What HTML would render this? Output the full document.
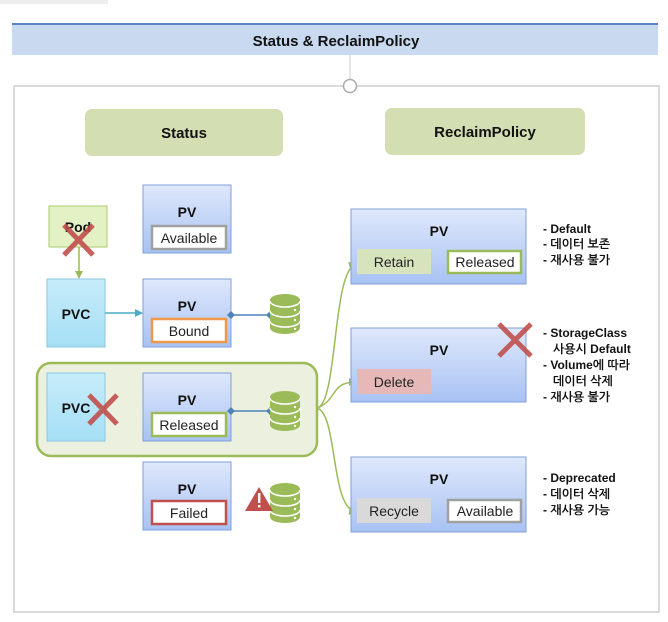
<!DOCTYPE html>
<html><head><meta charset="utf-8"><style>
body{margin:0;background:#fff;}
svg{display:block;font-family:"Liberation Sans","NanumGothic","Noto Sans CJK KR",sans-serif;}
.b{font-weight:bold;}
</style></head><body>
<svg width="668" height="622" viewBox="0 0 668 622" xmlns="http://www.w3.org/2000/svg">
<defs>
<linearGradient id="gpv" x1="0" y1="0" x2="0" y2="1"><stop offset="0" stop-color="#dfe8fb"/><stop offset="1" stop-color="#a8c2f3"/></linearGradient>
<linearGradient id="gpvc" x1="0" y1="0" x2="0" y2="1"><stop offset="0" stop-color="#c6ecfa"/><stop offset="1" stop-color="#a6dff5"/></linearGradient>
<g id="cyl">
<path d="M0 6 A15 6 0 0 1 30 6 V34 A15 6 0 0 1 0 34 Z" fill="#9bbb59"/>
<path d="M0 7 A15 6 0 0 0 30 7" fill="none" stroke="#fff" stroke-width="1.5"/>
<path d="M0 17 A15 6 0 0 0 30 17" fill="none" stroke="#fff" stroke-width="1.5"/>
<path d="M0 27 A15 6 0 0 0 30 27" fill="none" stroke="#fff" stroke-width="1.5"/>
<circle cx="25" cy="16" r="1.2" fill="#fff"/><circle cx="25" cy="26" r="1.2" fill="#fff"/><circle cx="25" cy="35" r="1.2" fill="#fff"/>
</g>
<marker id="ag" markerWidth="8" markerHeight="8" refX="7" refY="4" orient="auto" markerUnits="userSpaceOnUse"><path d="M0 0 L8 4 L0 8 Z" fill="#9bbb59"/></marker>
<marker id="ab" markerWidth="8" markerHeight="8" refX="7" refY="4" orient="auto" markerUnits="userSpaceOnUse"><path d="M0 0 L8 4 L0 8 Z" fill="#4bacc6"/></marker>
</defs>
<rect x="0" y="0" width="108" height="4" fill="#eeeeee"/>
<!-- header -->
<rect x="12" y="24" width="646" height="31" fill="#c9d9f0"/>
<rect x="12" y="23" width="646" height="2" fill="#5a82c4"/>
<text x="336" y="46" text-anchor="middle" class="b" font-size="15" fill="#111">Status &amp; ReclaimPolicy</text>
<line x1="350" y1="55" x2="350" y2="80" stroke="#ccc" stroke-width="1"/>
<rect x="14" y="86" width="645" height="526" fill="none" stroke="#dadada" stroke-width="2"/>
<circle cx="350" cy="86" r="6.5" fill="#fff" stroke="#aaa" stroke-width="1.5"/>
<!-- section titles -->
<rect x="85" y="109" width="198" height="47" rx="7" fill="#d3dfb3"/>
<text x="184" y="138" text-anchor="middle" class="b" font-size="15" fill="#111">Status</text>
<rect x="385" y="108" width="200" height="47" rx="7" fill="#d3dfb3"/>
<text x="485" y="137" text-anchor="middle" class="b" font-size="15" fill="#111">ReclaimPolicy</text>
<!-- green group -->
<rect x="37" y="363" width="280" height="93" rx="14" fill="#ebf0df" stroke="#9bbb59" stroke-width="2.5"/>
<!-- Pod -->
<rect x="49" y="206" width="58" height="41" fill="#e3f1c4" stroke="#a9cb6c" stroke-width="1"/>
<text x="78" y="232" text-anchor="middle" class="b" font-size="14" fill="#111">Pod</text>
<path d="M64 225 L93 255 M93 225 L64 255" stroke="#c0504d" stroke-width="5" opacity="0.9"/>
<line x1="79" y1="247" x2="79" y2="278" stroke="#9bbb59" stroke-width="1.5" marker-end="url(#ag)"/>
<!-- PVC -->
<rect x="47" y="279" width="58" height="68" fill="url(#gpvc)" stroke="#8cc8e0"/>
<text x="76" y="319" text-anchor="middle" class="b" font-size="14" fill="#111">PVC</text>
<line x1="105" y1="313" x2="142" y2="313" stroke="#4bacc6" stroke-width="1.5" marker-end="url(#ab)"/>
<rect x="47" y="373" width="58" height="68" fill="url(#gpvc)" stroke="#8cc8e0"/>
<text x="76" y="413" text-anchor="middle" class="b" font-size="14" fill="#111">PVC</text>
<path d="M89 395 L117 424 M117 395 L89 424" stroke="#c0504d" stroke-width="5" opacity="0.9"/>
<!-- PV status boxes -->
<g>
<rect x="143" y="185" width="88" height="68" fill="url(#gpv)" stroke="#7f9fd9"/>
<text x="187" y="217" text-anchor="middle" class="b" font-size="14" fill="#111">PV</text>
<rect x="152" y="226" width="74" height="23" fill="#fff" stroke="#a0a0a0" stroke-width="2.5"/>
<text x="189" y="243" text-anchor="middle" font-size="14" fill="#222">Available</text>

<rect x="143" y="279" width="88" height="68" fill="url(#gpv)" stroke="#7f9fd9"/>
<text x="187" y="311" text-anchor="middle" class="b" font-size="14" fill="#111">PV</text>
<rect x="152" y="319" width="74" height="23" fill="#fff" stroke="#f0974a" stroke-width="2.5"/>
<text x="189" y="336" text-anchor="middle" font-size="14" fill="#222">Bound</text>

<rect x="143" y="373" width="88" height="68" fill="url(#gpv)" stroke="#7f9fd9"/>
<text x="187" y="405" text-anchor="middle" class="b" font-size="14" fill="#111">PV</text>
<rect x="152" y="413" width="74" height="23" fill="#fff" stroke="#9bbb59" stroke-width="2.5"/>
<text x="189" y="430" text-anchor="middle" font-size="14" fill="#222">Released</text>

<rect x="143" y="462" width="88" height="68" fill="url(#gpv)" stroke="#7f9fd9"/>
<text x="187" y="494" text-anchor="middle" class="b" font-size="14" fill="#111">PV</text>
<rect x="152" y="501" width="74" height="23" fill="#fff" stroke="#c0504d" stroke-width="2.5"/>
<text x="189" y="518" text-anchor="middle" font-size="14" fill="#222">Failed</text>
</g>
<!-- connectors to storage -->
<line x1="231" y1="315" x2="270" y2="315" stroke="#4f81bd" stroke-width="1.5"/>
<path d="M231 311 L235 315 L231 319 L227 315Z M270 311 L274 315 L270 319 L266 315Z" fill="#4f81bd"/>
<line x1="231" y1="411" x2="270" y2="411" stroke="#4f81bd" stroke-width="1.5"/>
<path d="M231 407 L235 411 L231 415 L227 411Z M270 407 L274 411 L270 415 L266 411Z" fill="#4f81bd"/>
<use href="#cyl" x="270" y="294"/>
<use href="#cyl" x="270" y="391"/>
<use href="#cyl" x="270" y="483"/>
<path d="M259 487 L273 511 L245 511 Z" fill="#c0504d"/>
<rect x="258" y="493" width="2.4" height="10" fill="#fff"/><rect x="258" y="505" width="2.4" height="2.4" fill="#fff"/>
<!-- curves -->
<path d="M317 408 C338 404 332 270 356 264" fill="none" stroke="#9bbb59" stroke-width="1.5" marker-end="url(#ag)"/>
<path d="M317 408 C338 400 330 382 356 382" fill="none" stroke="#9bbb59" stroke-width="1.5" marker-end="url(#ag)"/>
<path d="M317 408 C338 414 330 508 356 512" fill="none" stroke="#9bbb59" stroke-width="1.5" marker-end="url(#ag)"/>
<!-- reclaim PVs -->
<rect x="351" y="209" width="175" height="75" fill="url(#gpv)" stroke="#7f9fd9"/>
<text x="439" y="236" text-anchor="middle" class="b" font-size="14" fill="#111">PV</text>
<rect x="357" y="249" width="74" height="25" fill="#d7e3bc"/>
<text x="394" y="267" text-anchor="middle" font-size="14" fill="#222">Retain</text>
<rect x="448" y="251" width="73" height="22" fill="#fff" stroke="#9bbb59" stroke-width="2.5"/>
<text x="485" y="267" text-anchor="middle" font-size="14" fill="#222">Released</text>

<rect x="351" y="328" width="175" height="74" fill="url(#gpv)" stroke="#7f9fd9"/>
<text x="439" y="355" text-anchor="middle" class="b" font-size="14" fill="#111">PV</text>
<rect x="357" y="369" width="74" height="25" fill="#e6b9b8"/>
<text x="394" y="387" text-anchor="middle" font-size="14" fill="#222">Delete</text>
<path d="M499 324 L531 356 M531 324 L499 356" stroke="#c0504d" stroke-width="5" opacity="0.9"/>

<rect x="351" y="457" width="175" height="75" fill="url(#gpv)" stroke="#7f9fd9"/>
<text x="439" y="484" text-anchor="middle" class="b" font-size="14" fill="#111">PV</text>
<rect x="357" y="498" width="74" height="25" fill="#d9d9d9"/>
<text x="394" y="516" text-anchor="middle" font-size="14" fill="#222">Recycle</text>
<rect x="448" y="500" width="73" height="22" fill="#fff" stroke="#a0a0a0" stroke-width="2.5"/>
<text x="485" y="516" text-anchor="middle" font-size="14" fill="#222">Available</text>
<!-- notes -->
<g class="b" font-size="12" fill="#111">
<text x="543" y="233">- Default</text>
<text x="543" y="248">- 데이터 보존</text>
<text x="543" y="264">- 재사용 불가</text>
<text x="543" y="337">- StorageClass</text>
<text x="553" y="353">사용시 Default</text>
<text x="543" y="369">- Volume에 따라</text>
<text x="553" y="385">데이터 삭제</text>
<text x="543" y="401">- 재사용 불가</text>
<text x="543" y="482">- Deprecated</text>
<text x="543" y="498">- 데이터 삭제</text>
<text x="543" y="514">- 재사용 가능</text>
</g>
</svg>
</body></html>
